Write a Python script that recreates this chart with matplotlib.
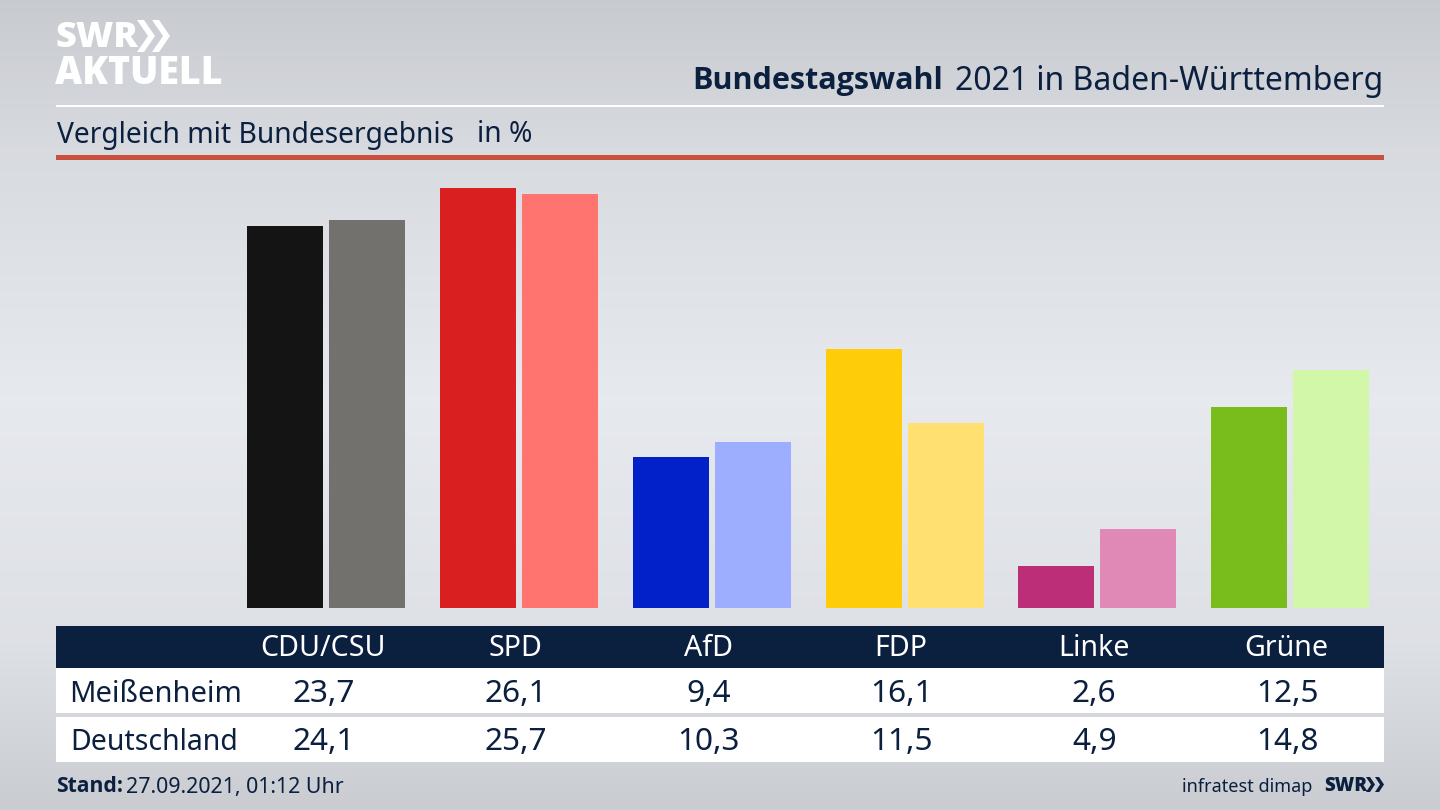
import numpy as np
import matplotlib
matplotlib.use("Agg")
import matplotlib.pyplot as plt
from matplotlib.patches import Rectangle, Polygon

parties = ["CDU/CSU", "SPD", "AfD", "FDP", "Linke", "Grüne"]
meissenheim = [23.7, 26.1, 9.4, 16.1, 2.6, 12.5]
deutschland = [24.1, 25.7, 10.3, 11.5, 4.9, 14.8]
row_names = ["Meißenheim", "Deutschland"]
colors_a = ["#141414", "#d91f1f", "#0221c8", "#ffcc0a", "#bc2e78", "#78bd1c"]
colors_b = ["#72716e", "#ff746e", "#9eaeff", "#ffe070", "#e088b6", "#d3f7a8"]

W, H = 1440, 810
NAVY = "#0b1f3f"
FONT = "Noto Sans"
BOLD = "Open Sans"
plt.rcParams["font.family"] = [FONT, "DejaVu Sans"]
fig = plt.figure(figsize=(W / 100, H / 100), dpi=100)

bg = fig.add_axes([0, 0, 1, 1])
bg.set_xlim(0, W); bg.set_ylim(H, 0); bg.axis("off")
stops_y = [0, 160, 400, 640, 810]
stops_v = [0.785, 0.85, 0.905, 0.87, 0.79]
yy = np.arange(H)
base = np.interp(yy, stops_y, stops_v)
r = base[:, None] * np.ones((H, W))
img = np.dstack([r, r + 0.01, r + 0.03])
bg.imshow(np.clip(img, 0, 1), extent=(0, W, H, 0), aspect="auto", zorder=0)

def rect(x0, y0, x1, y1, c, z=1):
    bg.add_patch(Rectangle((x0, y0), x1 - x0, y1 - y0, facecolor=c, edgecolor="none", zorder=z))

rect(56, 104.5, 1384, 107, "#ffffff")
rect(56, 155, 1384, 160, "#c9503f")
rect(56, 626, 1384, 668, NAVY)
rect(56, 668, 1384, 713, "#ffffff")
rect(56, 717, 1384, 762, "#ffffff")

# logo
bg.text(55, 38, "SWR", color="white", fontsize=26, fontweight="heavy", va="center", ha="left", family=BOLD, zorder=3)
bg.text(55, 74, "AKTUELL", color="white", fontsize=27, fontweight="heavy", va="center", ha="left", family=BOLD, zorder=3)
def chev(x, y0, y1, w, t, c):
    m = (y0 + y1) / 2
    bg.add_patch(Polygon([(x, y0), (x + t, y0), (x + t + w, m), (x + t, y1), (x, y1), (x + w, m)], closed=True, facecolor=c, edgecolor="none", zorder=3))
chev(137, 20, 52, 11, 7, "white")
chev(152, 20, 52, 11, 7, "white")
chev(1366, 777, 792, 5, 4, NAVY)
chev(1375, 777, 792, 5, 4, NAVY)

# titles
bg.text(692, 81, "Bundestagswahl", color=NAVY, fontsize=22, fontweight="bold", family=BOLD, va="center", ha="left", zorder=3)
bg.text(1383, 81, "2021 in Baden-Württemberg", color=NAVY, fontsize=23, va="center", ha="right", zorder=3)
bg.text(57, 135, "Vergleich mit Bundesergebnis", color=NAVY, fontsize=20.3, va="center", ha="left", zorder=3)
bg.text(477, 135, "in %", color=NAVY, fontsize=20.3, va="center", ha="left", zorder=3)

# bars
ax = fig.add_axes([56 / W, 1 - 608 / H, (1384 - 56) / W, (608 - 160) / H])
ax.patch.set_alpha(0)
ax.set_xlim(-1.4037, 5.488)
ax.set_ylim(0, 448 / 16.11)
ax.axis("off")
x = np.arange(len(parties))
bw = 76 / 192.7
off = 41 / 192.7
ax.bar(x - off, meissenheim, bw, color=colors_a)
ax.bar(x + off, deutschland, bw, color=colors_b)

# table
col_x = 326.5 + 192.7 * x
for cx, p, a, b in zip(col_x, parties, meissenheim, deutschland):
    bg.text(cx - 3.5, 649, p, color="white", fontsize=20.6, ha="center", va="center", zorder=3)
    bg.text(cx - 3, 694, f"{a:.1f}".replace(".", ","), color=NAVY, fontsize=22.7, ha="center", va="center", zorder=3)
    bg.text(cx - 3, 742.5, f"{b:.1f}".replace(".", ","), color=NAVY, fontsize=22.7, ha="center", va="center", zorder=3)
bg.text(69, 694, row_names[0], color=NAVY, fontsize=21, ha="left", va="center", zorder=3)
bg.text(70, 742.5, row_names[1], color=NAVY, fontsize=20.5, ha="left", va="center", zorder=3)

# footer
bg.text(56, 787, "Stand:", color=NAVY, fontsize=15.2, fontweight="bold", family=BOLD, ha="left", va="center", zorder=3)
bg.text(126, 787, "27.09.2021, 01:12 Uhr", color=NAVY, fontsize=15.4, ha="left", va="center", zorder=3)
bg.text(1182, 787, "infratest dimap", color=NAVY, fontsize=13, ha="left", va="center", zorder=3)
bg.text(1324, 786, "SWR", color=NAVY, fontsize=13.5, fontweight="heavy", family=BOLD, ha="left", va="center", zorder=3)

fig.savefig("out.png", dpi=100)
